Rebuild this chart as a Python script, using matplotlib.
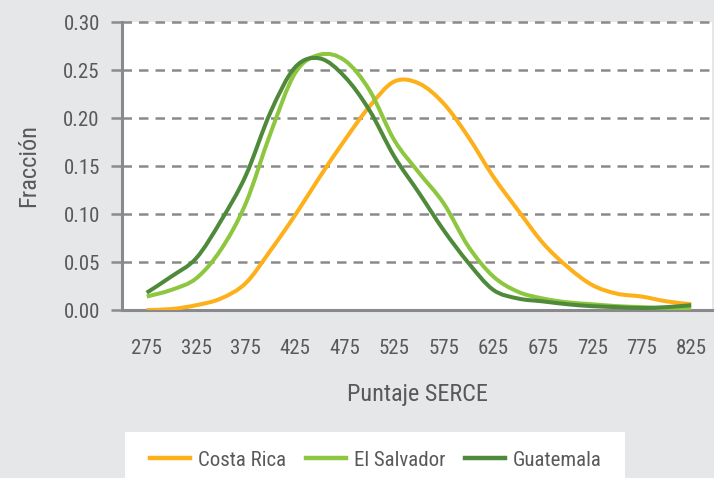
import matplotlib
matplotlib.use("Agg")
import matplotlib.pyplot as plt
from matplotlib.patches import Rectangle, PathPatch
from matplotlib.path import Path
from matplotlib.lines import Line2D
from matplotlib import font_manager

# fuente condensada, la primera que este instalada
names = set(f.name for f in font_manager.fontManager.ttflist)
font = "Roboto"
for cand in ["Roboto Condensed", "Liberation Sans Narrow", "Archivo Narrow",
             "Asap Condensed"]:
    if cand in names:
        font = cand
        break
plt.rcParams["font.family"] = [font, "DejaVu Sans"]

# datos
puntaje = [275, 300, 325, 350, 375, 400, 425, 450, 475, 500, 525, 550,
           575, 600, 625, 650, 675, 700, 725, 750, 775, 800, 825]

costa_rica = [0.000, 0.001, 0.005, 0.012, 0.028, 0.062, 0.099, 0.139, 0.177,
              0.212, 0.238, 0.236, 0.215, 0.180, 0.139, 0.104, 0.070, 0.045,
              0.026, 0.017, 0.014, 0.009, 0.006]
el_salvador = [0.014, 0.021, 0.033, 0.063, 0.111, 0.184, 0.247, 0.266, 0.260,
               0.229, 0.177, 0.143, 0.111, 0.066, 0.035, 0.019, 0.012, 0.008,
               0.006, 0.004, 0.003, 0.002, 0.002]
guatemala = [0.018, 0.035, 0.054, 0.093, 0.140, 0.206, 0.253, 0.262, 0.243,
             0.208, 0.160, 0.122, 0.083, 0.049, 0.021, 0.012, 0.009, 0.006,
             0.004, 0.003, 0.002, 0.003, 0.005]

series = ["Costa Rica", "El Salvador", "Guatemala"]
colors = ["#fdb019", "#8dc63f", "#4f8a3b"]

x_ticks = [275, 325, 375, 425, 475, 525, 575, 625, 675, 725, 775, 825]
y_ticks = [0.00, 0.05, 0.10, 0.15, 0.20, 0.25, 0.30]

text_col = "#58595b"
grid_col = "#8a8a8c"


def smooth_path(xs, ys):
    # linea suavizada tipo Excel (Catmull-Rom -> Bezier) que pasa por los puntos
    verts = [(xs[0], ys[0])]
    codes = [Path.MOVETO]
    n = len(xs)
    for i in range(n - 1):
        x0, y0 = (xs[i - 1], ys[i - 1]) if i > 0 else (xs[i], ys[i])
        x1, y1 = xs[i], ys[i]
        x2, y2 = xs[i + 1], ys[i + 1]
        x3, y3 = (xs[i + 2], ys[i + 2]) if i + 2 < n else (x2, y2)
        c1 = (x1 + (x2 - x0) / 6, y1 + (y2 - y0) / 6)
        c2 = (x2 - (x3 - x1) / 6, y2 - (y3 - y1) / 6)
        verts += [c1, c2, (x2, y2)]
        codes += [Path.CURVE4] * 3
    return Path(verts, codes)


fig = plt.figure(figsize=(7.14, 4.78), dpi=100)
fig.patch.set_facecolor("#e6e7e9")
ax = fig.add_axes([122 / 714, 168 / 478, 590 / 714, 288 / 478])
ax.set_facecolor("white")

for vals, col in zip([costa_rica, el_salvador, guatemala], colors):
    ax.add_patch(PathPatch(smooth_path(puntaje, vals), facecolor="none",
                           edgecolor=col, lw=2.9, capstyle="butt", zorder=3))

ax.set_xlim(250, 846)
ax.set_ylim(0, 0.30)
ax.set_xticks(x_ticks)
ax.set_yticks(y_ticks)
ax.set_yticklabels(["%.2f" % v for v in y_ticks])

for v in y_ticks[1:]:
    ax.axhline(v, color=grid_col, lw=1.8, dashes=(3.8, 2.8), zorder=0,
               clip_on=False)

for s in ["top", "right"]:
    ax.spines[s].set_visible(False)
for s in ["left", "bottom"]:
    ax.spines[s].set_color(grid_col)
    ax.spines[s].set_linewidth(2.2)

ax.tick_params(axis="y", length=8, width=1.8, color=grid_col, pad=8,
               labelsize=15, labelcolor=text_col)
ax.tick_params(axis="x", length=0, pad=21, labelsize=15, labelcolor=text_col)

ax.set_xlabel("Puntaje SERCE", fontsize=17.5, color=text_col, labelpad=18)
ax.set_ylabel("Fracción", fontsize=17.5, color=text_col, labelpad=17)

# caja blanca de la leyenda
fig.patches.append(Rectangle((125 / 714, 0), 500 / 714, 46 / 478,
                             transform=fig.transFigure, facecolor="white",
                             edgecolor="none", zorder=0))
handles = [Line2D([], [], color=c, lw=3.2) for c in colors]
fig.legend(handles, series, loc="center", bbox_to_anchor=(376 / 714, 18 / 478),
           ncol=3, frameon=False, fontsize=15, handlelength=1.9,
           columnspacing=0.95, handletextpad=0.4, labelcolor=text_col)

fig.savefig("out.png", dpi=100, facecolor=fig.get_facecolor())
